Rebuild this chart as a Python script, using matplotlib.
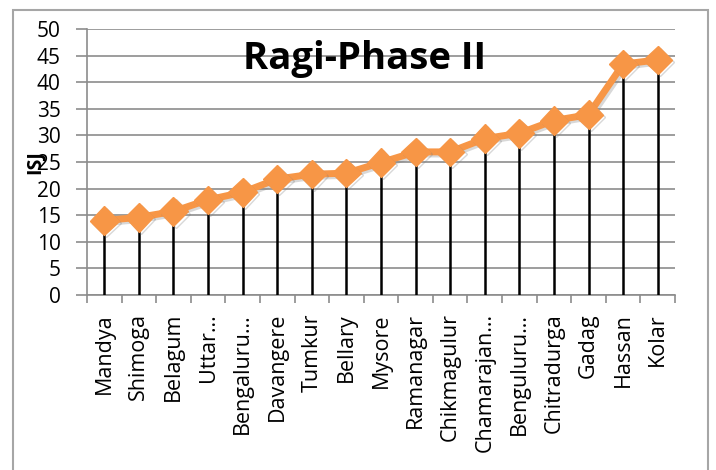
import matplotlib
matplotlib.use("Agg")
import matplotlib.pyplot as plt
import matplotlib.patheffects as pe
from matplotlib.patches import Rectangle
import numpy as np

categories = ["Mandya", "Shimoga", "Belagum", "Uttar…", "Bengaluru…", "Davangere",
              "Tumkur", "Bellary", "Mysore", "Ramanagar", "Chikmagulur", "Chamarajan…",
              "Benguluru…", "Chitradurga", "Gadag", "Hassan", "Kolar"]
values = [14.0, 14.6, 15.7, 17.9, 19.3, 21.8, 22.7, 22.9, 24.9, 26.9, 26.9, 29.4,
          30.4, 32.8, 33.9, 43.4, 44.2]
yticks = list(range(0, 51, 5))
title = "Ragi-Phase II"
ylabel = "ISJ"

font = ["Open Sans", "DejaVu Sans"]
plt.rcParams['font.family'] = font

W, H = 716, 470
fig = plt.figure(figsize=(W / 100, H / 100), dpi=100)
ax = fig.add_axes([87 / W, (H - 295) / H, (675 - 87) / W, (295 - 29) / H])

x = np.arange(len(categories))
ax.set_xlim(-0.5, len(categories) - 0.5)
ax.set_ylim(0, 50)

ax.vlines(x, 0, values, color="black", lw=1.8, zorder=3)
ax.plot(x, values, color="#F79646", lw=5, marker="D", ms=14.5, mec="#F79646",
        zorder=4, solid_joinstyle="round",
        path_effects=[pe.SimpleLineShadow(offset=(1.5, -1.5), alpha=0.3, shadow_color="#7f7f7f"),
                      pe.Normal()])

ax.set_yticks(yticks)
ax.set_yticklabels([str(t) for t in yticks], fontsize=15)
ax.grid(axis="y", color="#8c8c8c", lw=1.2)
ax.set_axisbelow(True)
ax.tick_params(axis="y", length=8, width=1.2, color="#8c8c8c", pad=11)

ax.set_xticks(x)
ax.set_xticklabels(categories, rotation=90, fontsize=15.5, va="top", ha="center")
ax.set_xticks(np.arange(-0.5, len(categories)), minor=True)
ax.tick_params(axis="x", which="major", length=0, pad=13)
ax.tick_params(axis="x", which="minor", length=6, width=1.2, color="#8c8c8c")

for s in ["top", "right"]:
    ax.spines[s].set_visible(False)
for s in ["left", "bottom"]:
    ax.spines[s].set_color("#8c8c8c")
    ax.spines[s].set_linewidth(1.2)

fig.text(365 / W, 1 - 69 / H, title, ha="center", va="baseline",
         fontsize=27.5, fontweight="bold", zorder=5)
fig.text(35 / W, 1 - 162 / H, ylabel, rotation=90, ha="center", va="center",
         fontsize=14, fontweight="bold")

fig.patches.append(Rectangle((13 / W, -0.1), (708 - 13) / W, (H - 10) / H + 0.1,
                             transform=fig.transFigure, fill=False,
                             edgecolor="#a6a6a6", lw=1.5))

fig.savefig("out.png", dpi=100)
